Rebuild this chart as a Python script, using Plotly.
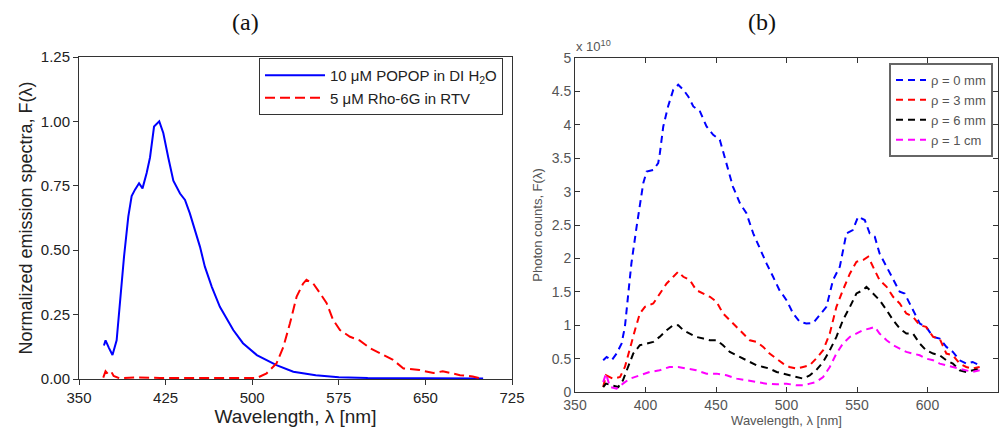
import plotly.graph_objects as go

# ---------- Panel (a) data ----------
popop_wl = [371.6, 373, 376, 379, 382.6, 385.5, 389, 392.7, 395.6, 398.5, 402, 405, 408.6, 411.5, 415,
            419.5, 423, 427.3, 431.7, 437.5, 441.8, 446, 450.5, 454.8, 459, 465, 472, 483.6, 492, 504,
            521, 535.6, 555, 575, 600, 630, 660, 700]
popop_f = [0.13, 0.15, 0.12, 0.093, 0.15, 0.31, 0.475, 0.63, 0.71, 0.735, 0.76, 0.74, 0.80, 0.86, 0.98,
           1.0, 0.955, 0.86, 0.77, 0.72, 0.695, 0.643, 0.58, 0.513, 0.436, 0.358, 0.28, 0.19, 0.139, 0.093,
           0.054, 0.028, 0.015, 0.007, 0.004, 0.003, 0.003, 0.002]

rho_wl = [371, 373, 375, 378, 380, 385, 400, 420, 450, 480, 504, 512.5, 521, 527, 532.7, 538.5, 544, 547,
          553, 558.7, 564.5, 570, 576, 584.7, 593, 602, 613.5, 622, 631, 645, 657, 665, 680, 691, 700]
rho_f = [0.005, 0.03, 0.02, 0.028, 0.012, 0.003, 0.006, 0.004, 0.004, 0.004, 0.004, 0.022, 0.06, 0.125,
         0.216, 0.32, 0.37, 0.385, 0.37, 0.333, 0.294, 0.23, 0.19, 0.164, 0.15, 0.12, 0.093, 0.074, 0.041,
         0.035, 0.023, 0.03, 0.015, 0.01, 0.0]

# ---------- Panel (b) data (units of 1e10 photon counts) ----------
b0_wl = [370, 372.4, 376, 379.5, 383, 385.4, 387.8, 390, 393.7, 396, 398.4, 400.8, 405.5, 409, 410.2, 412.6,
         416, 419.7, 423.2, 426.8, 430.3, 433.9, 438.6, 443.3, 448, 452.7, 457.5, 462, 467, 471.6, 476.4,
         481, 485.8, 490.5, 495, 500, 504.7, 509.4, 514, 519, 523.6, 528.3, 533, 537.8, 542.5, 547, 550.8,
         555.5, 559, 562.6, 566, 571, 575.6, 580.3, 583.8, 589.7, 594.5, 599, 604, 608.6, 613.4, 618, 622.8,
         627.5, 632, 637]
b0_v = [0.475, 0.525, 0.475, 0.575, 0.725, 0.975, 1.475, 1.925, 2.475, 2.775, 3.125, 3.3, 3.325, 3.425, 3.575,
        3.975, 4.275, 4.525, 4.6, 4.525, 4.425, 4.275, 4.2, 3.975, 3.85, 3.775, 3.425, 3.075, 2.825, 2.675,
        2.375, 2.15, 1.925, 1.725, 1.525, 1.375, 1.175, 1.05, 1.025, 1.035, 1.15, 1.275, 1.675, 1.875, 2.375,
        2.425, 2.625, 2.575, 2.375, 2.325, 2.075, 1.875, 1.675, 1.5, 1.475, 1.225, 1.025, 0.975, 0.825, 0.8,
        0.675, 0.6, 0.475, 0.425, 0.45, 0.4]

b3_wl = [370, 372, 377, 382, 385.4, 389, 392.5, 396, 399.6, 405.5, 410, 415, 419.7, 423.2, 426.8, 431.5, 436,
         441, 445.7, 450.4, 455, 459.8, 464.6, 469, 474, 478.7, 483.5, 488, 493, 497.6, 502, 507, 511.8,
         516.5, 521, 526, 530.7, 535.4, 540, 545, 549.6, 554.3, 557.9, 561.4, 566, 571, 575.6, 580.3, 585,
         589.7, 594.5, 599, 604, 608.6, 613.4, 618, 622.8, 627.5, 632, 637]
b3_v = [0.075, 0.25, 0.2, 0.225, 0.375, 0.675, 0.925, 1.175, 1.275, 1.325, 1.475, 1.625, 1.725, 1.8, 1.725,
        1.675, 1.525, 1.475, 1.425, 1.35, 1.175, 1.075, 0.975, 0.875, 0.775, 0.75, 0.675, 0.575, 0.5, 0.425,
        0.375, 0.35, 0.375, 0.4, 0.5, 0.625, 0.875, 1.275, 1.525, 1.775, 1.95, 1.975, 2.025, 1.875, 1.675,
        1.575, 1.425, 1.325, 1.175, 1.125, 1.0, 0.975, 0.825, 0.8, 0.575, 0.55, 0.425, 0.375, 0.35, 0.375]

b6_wl = [370, 372, 376, 380.7, 384, 387.8, 391.3, 396, 400.8, 405.5, 410, 415, 419.7, 423.2, 426.8, 431.5,
         436, 441, 445.7, 450.4, 455, 459.8, 464.6, 469, 474, 478.7, 483.5, 488, 493, 497.6, 502, 507, 511.8,
         516.5, 521, 526, 530.7, 535.4, 540, 545, 549.6, 554.3, 556.7, 561.4, 566, 571, 575.6, 580.3, 585,
         589.7, 594.5, 599, 604, 608.6, 613.4, 618, 622.8, 627.5, 632, 637]
b6_v = [0.075, 0.125, 0.1, 0.075, 0.175, 0.375, 0.575, 0.7, 0.725, 0.75, 0.825, 0.925, 1.0, 1.0, 0.925, 0.875,
        0.825, 0.8, 0.775, 0.775, 0.7, 0.6, 0.55, 0.5, 0.45, 0.4, 0.375, 0.35, 0.3, 0.275, 0.25, 0.225, 0.2,
        0.25, 0.325, 0.45, 0.625, 0.825, 1.075, 1.275, 1.475, 1.525, 1.575, 1.475, 1.375, 1.225, 1.075, 0.95,
        0.875, 0.875, 0.725, 0.625, 0.575, 0.55, 0.475, 0.425, 0.325, 0.3, 0.325, 0.35]

b10_wl = [370, 372, 374.8, 379.5, 384, 389, 396, 403, 410, 417, 423.2, 429, 436, 443.3, 450.4, 457.5, 464.6,
          471.6, 478.7, 485.8, 493, 500, 507, 511.8, 516.5, 521, 526, 530.7, 535.4, 540, 545, 549.6, 554.3,
          559, 562.6, 566, 571, 575.6, 580.3, 585, 589.7, 594.5, 599, 604, 608.6, 613.4, 618, 622.8, 627.5,
          632, 637]
b10_v = [0.15, 0.275, 0.075, 0.05, 0.125, 0.2, 0.25, 0.3, 0.325, 0.375, 0.375, 0.35, 0.325, 0.275, 0.275,
         0.25, 0.2, 0.175, 0.15, 0.125, 0.115, 0.125, 0.1, 0.1, 0.125, 0.15, 0.225, 0.375, 0.575, 0.725, 0.825,
         0.875, 0.925, 0.95, 0.975, 0.875, 0.775, 0.7, 0.65, 0.6, 0.575, 0.55, 0.5, 0.475, 0.425, 0.4, 0.375,
         0.35, 0.325, 0.3, 0.325]

a_xticks = [350, 425, 500, 575, 650, 725]
a_yticks = [0, 0.25, 0.5, 0.75, 1.0, 1.25]
a_yticklabels = ["0.00", "0.25", "0.50", "0.75", "1.00", "1.25"]
b_xticks = [350, 400, 450, 500, 550, 600, 650]
b_yticks = [0, 0.5, 1, 1.5, 2, 2.5, 3, 3.5, 4, 4.5, 5]
b_yticklabels = ["0", "0.5", "1", "1.5", "2", "2.5", "3", "3.5", "4", "4.5", "5"]

fig = go.Figure()

fig.add_trace(go.Scatter(x=popop_wl, y=popop_f, mode="lines", name="10 \u03bcM POPOP in DI H<sub>2</sub>O",
                         line=dict(color="#0000ff", width=2), xaxis="x", yaxis="y", legend="legend"))
fig.add_trace(go.Scatter(x=rho_wl, y=rho_f, mode="lines", name="5 \u03bcM Rho-6G in RTV",
                         line=dict(color="#ff0000", width=2, dash="10px,5px"), xaxis="x", yaxis="y", legend="legend"))

for wl, v, c, nm in [(b0_wl, b0_v, "#0000ff", "\u03c1 = 0 mm"),
                     (b3_wl, b3_v, "#ff0000", "\u03c1 = 3 mm"),
                     (b6_wl, b6_v, "#000000", "\u03c1 = 6 mm"),
                     (b10_wl, b10_v, "#ff00ff", "\u03c1 = 1 cm")]:
    fig.add_trace(go.Scatter(x=wl, y=v, mode="lines", name=nm,
                             line=dict(color=c, width=2, dash="7px,5px"), xaxis="x2", yaxis="y2", legend="legend2"))

FAM = "Arial, Liberation Sans, sans-serif"
axis_font = dict(family=FAM, color="#222")
gray_font = dict(family=FAM, color="#555")

fig.update_layout(
    width=1008, height=430, margin=dict(l=0, r=0, t=0, b=0),
    paper_bgcolor="white", plot_bgcolor="white",
    showlegend=True,
    xaxis=dict(domain=[79/1008, 512/1008], range=[350, 725], tickvals=a_xticks, automargin=False,
               showline=True, linecolor="#333", linewidth=1, mirror=True, ticks="outside", ticklen=5,
               tickcolor="#333", showgrid=False, zeroline=False, anchor="y",
               tickfont=dict(size=15, **axis_font),
               title=dict(text="Wavelength, \u03bb [nm]", font=dict(size=19, **axis_font), standoff=2)),
    yaxis=dict(domain=[1-379/430, 1-57/430], range=[0, 1.25], tickvals=a_yticks, ticktext=a_yticklabels,
               automargin=False,
               showline=True, linecolor="#333", linewidth=1, mirror=True, ticks="outside", ticklen=5,
               tickcolor="#333", showgrid=False, zeroline=False, anchor="x",
               tickfont=dict(size=15, **axis_font),
               title=dict(text="Normalized emission spectra, F(\u03bb)", font=dict(size=18, **axis_font), standoff=3)),
    xaxis2=dict(domain=[575/1008, 998/1008], range=[350, 650], tickvals=b_xticks, automargin=False,
                showline=True, linecolor="#333", linewidth=1, mirror="allticks", ticks="inside", ticklen=5,
                tickcolor="#333", showgrid=False, zeroline=False, anchor="y2",
                tickfont=dict(size=14, **gray_font),
                title=dict(text="Wavelength, \u03bb [nm]", font=dict(size=13, **gray_font), standoff=0)),
    yaxis2=dict(domain=[1-392/430, 1-58/430], range=[0, 5], tickvals=b_yticks, ticktext=b_yticklabels,
                automargin=False,
                showline=True, linecolor="#333", linewidth=1, mirror="allticks", ticks="inside", ticklen=5,
                tickcolor="#333", showgrid=False, zeroline=False, anchor="x2",
                tickfont=dict(size=14, **gray_font),
                title=dict(text="Photon counts, F(\u03bb)", font=dict(size=13, **gray_font), standoff=6)),
    legend=dict(x=503/1008, y=1-58/430, xanchor="right", yanchor="top", bgcolor="white",
                bordercolor="#333", borderwidth=1, font=dict(size=15, **axis_font),
                tracegroupgap=0, itemwidth=60),
    legend2=dict(x=993/1008, y=1-63/430, xanchor="right", yanchor="top", bgcolor="white",
                 bordercolor="#666", borderwidth=2, font=dict(size=13, **gray_font),
                 tracegroupgap=0, itemwidth=30),
    annotations=[
        dict(text="(a)", x=245/1008, y=1-22/430, xref="paper", yref="paper", showarrow=False,
             xanchor="center", yanchor="middle", font=dict(family="Liberation Serif, Times New Roman, serif", size=24, color="#111")),
        dict(text="(b)", x=762/1008, y=1-22/430, xref="paper", yref="paper", showarrow=False,
             xanchor="center", yanchor="middle", font=dict(family="Liberation Serif, Times New Roman, serif", size=24, color="#111")),
        dict(text="x 10<sup>10</sup>", x=574/1008, y=1-56/430, xref="paper", yref="paper", showarrow=False,
             xanchor="left", yanchor="bottom", font=dict(size=13, **gray_font)),
    ],
)

fig.write_html("out.html")
